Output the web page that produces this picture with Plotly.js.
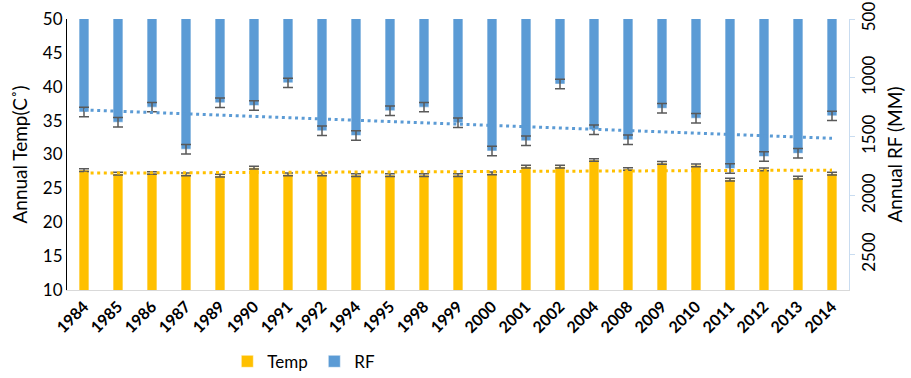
<!DOCTYPE html>
<html>
<head>
<meta charset="utf-8">
<script src="https://cdn.plot.ly/plotly-3.0.1.min.js"></script>
<style>html,body{margin:0;padding:0;background:#fff;}#chart{width:911px;height:378px;}</style>
</head>
<body>
<div id="chart"></div>
<script>
const years = ["1984","1985","1986","1987","1989","1990","1991","1992","1994","1995","1998","1999","2000","2001","2002","2004","2008","2009","2010","2011","2012","2013","2014"];
const temp = [27.7,27.17,27.27,27.08,26.87,28.05,27.08,27.08,26.97,26.97,26.97,26.97,27.22,28.2,28.2,29.19,27.86,28.75,28.4,26.29,27.81,26.58,27.17];
const tempErr = [0.2,0.2,0.2,0.2,0.2,0.2,0.2,0.2,0.2,0.2,0.2,0.2,0.2,0.2,0.2,0.2,0.2,0.2,0.2,0.2,0.2,0.2,0.2];
const rf = [1289,1376,1248,1605,1211,1234,1042,1449,1489,1278,1248,1381,1620,1534,1052,1440,1525,1258,1342,1769,1667,1640,1322];
const rfErr = [40,40,40,40,40,40,40,40,40,40,40,40,40,40,40,40,40,40,40,40,40,40,40];
const leftTicks = [10,15,20,25,30,35,40,45,50];
const rightTicks = [500,1000,1500,2000,2500];

function linfit(vals){
  const n = vals.length;
  let sx=0, sy=0, sxx=0, sxy=0;
  for(let i=0;i<n;i++){const x=i+1; sx+=x; sy+=vals[i]; sxx+=x*x; sxy+=x*vals[i];}
  const b=(n*sxy-sx*sy)/(n*sxx-sx*sx); const a=(sy-b*sx)/n;
  return vals.map((v,i)=>a+b*(i+1));
}

const font = "Lato, 'Open Sans', sans-serif";
const traces = [
  {type:'bar', name:'Temp', x:years, y:temp, yaxis:'y', width:0.29,
   marker:{color:'#FFC000', line:{color:'rgba(255,255,255,0.5)', width:1}},
   error_y:{type:'data', array:tempErr, visible:true, color:'#595959', thickness:1.5, width:5}},
  {type:'bar', name:'RF', x:years, y:rf, yaxis:'y2', width:0.29,
   marker:{color:'#5B9BD5', line:{color:'rgba(255,255,255,0.5)', width:1}},
   error_y:{type:'data', array:rfErr, visible:true, color:'#595959', thickness:1.5, width:5}},
  {type:'scatter', mode:'lines', x:years, y:linfit(temp), yaxis:'y', showlegend:false, hoverinfo:'skip',
   line:{color:'#FFC000', width:3, dash:'3px,3.6px'}},
  {type:'scatter', mode:'lines', x:years, y:linfit(rf), yaxis:'y2', showlegend:false, hoverinfo:'skip',
   line:{color:'#5B9BD5', width:3, dash:'3px,3.6px'}}
];

const layout = {
  width:911, height:378,
  margin:{l:67, r:62, t:19, b:88, autoexpand:false},
  paper_bgcolor:'#fff', plot_bgcolor:'#fff',
  barmode:'overlay',
  font:{family:font, size:17, color:'#000'},
  showlegend:true,
  legend:{orientation:'h', x:0.205, xanchor:'left', yref:'container', y:0.043, yanchor:'middle', font:{size:17, color:'#000'}, entrywidth:42, itemwidth:30, traceorder:'normal'},
  xaxis:{type:'category', automargin:false, tickangle:-45, tickfont:{size:16, family:font, weight:'bold'}, showline:true, linecolor:'#D9D9D9', linewidth:1, ticks:'', showgrid:false, zeroline:false},
  yaxis:{range:[10,50], automargin:false, tickvals:leftTicks, showline:true, linecolor:'#000', linewidth:1, ticks:'', showgrid:false, zeroline:false,
    tickfont:{size:17}, title:{text:'Annual Temp(C˚)', font:{size:19}, standoff:10}},
  yaxis2:{overlaying:'y', automargin:false, side:'right', range:[2800,500], tickvals:rightTicks, tickangle:-90, showline:true, linecolor:'#C9DCF0', linewidth:1,
    ticks:'outside', ticklen:5, tickcolor:'#C9DCF0', showgrid:false, zeroline:false, tickfont:{size:17},
    title:{text:'Annual RF (MM)', font:{size:19}, standoff:10}}
};

Plotly.newPlot('chart', traces, layout, {displayModeBar:false, staticPlot:true});
</script>
</body>
</html>
